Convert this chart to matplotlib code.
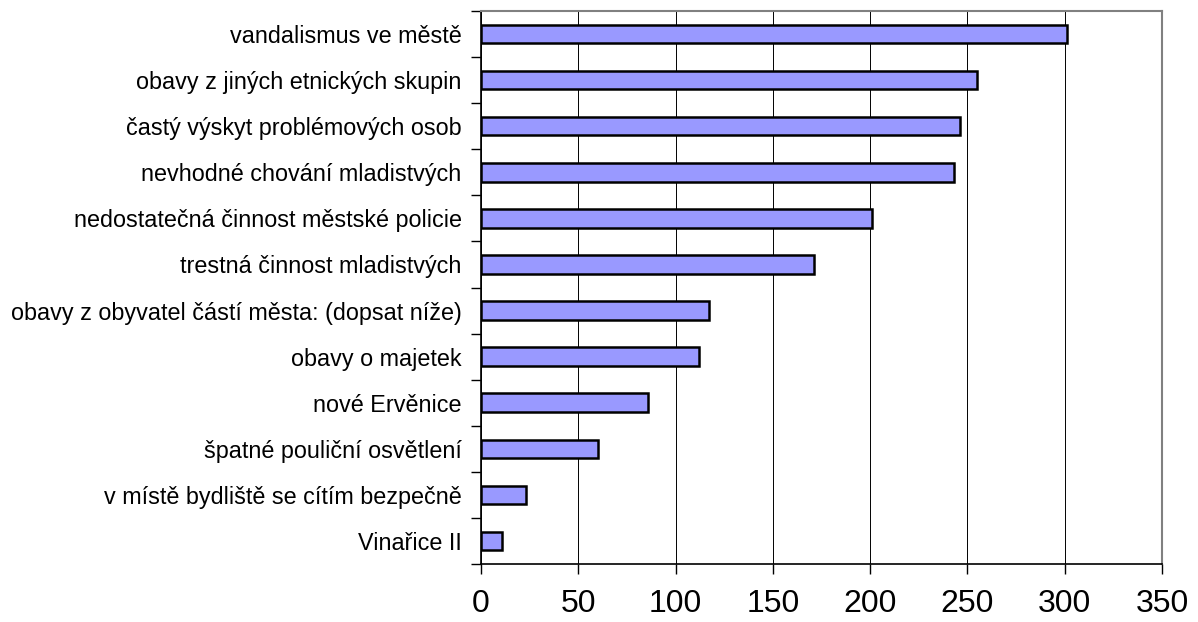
import numpy as np
import matplotlib.pyplot as plt

plt.rcParams['font.family'] = ['Liberation Sans', 'DejaVu Sans']

categories = [
    'vandalismus ve městě',
    'obavy z jiných etnických skupin',
    'častý výskyt problémových osob',
    'nevhodné chování mladistvých',
    'nedostatečná činnost městské policie',
    'trestná činnost mladistvých',
    'obavy z obyvatel částí města: (dopsat níže)',
    'obavy o majetek',
    'nové Ervěnice',
    'špatné pouliční osvětlení',
    'v místě bydliště se cítím bezpečně',
    'Vinařice II',
]
values = [301, 255, 246, 243, 201, 171, 117, 112, 86, 60, 23, 11]
xticks = [0, 50, 100, 150, 200, 250, 300, 350]

fig = plt.figure(figsize=(11.98, 6.22), dpi=100)
ax = fig.add_axes([481 / 1198, 1 - 564 / 622, 681 / 1198, 553 / 622])

n = len(categories)
pos = np.arange(n)[::-1]
ax.barh(pos, values, height=0.4, color='#9999FF', edgecolor='black',
        linewidth=1.8, zorder=3)

ax.set_xlim(0, 350)
ax.set_ylim(-0.5, n - 0.5)
ax.set_xticks(xticks)
ax.set_xticklabels([str(t) for t in xticks], fontsize=23)
ax.tick_params(axis='x', direction='out', length=7, width=1, pad=11)

ax.set_yticks(pos)
ax.set_yticklabels(categories, fontsize=16.8)
ax.tick_params(axis='y', which='major', length=0, pad=14)
ax.set_yticks(np.arange(n + 1) - 0.5, minor=True)
ax.tick_params(axis='y', which='minor', direction='out', length=7, width=1)

ax.xaxis.grid(True, color='black', linewidth=0.7, zorder=0)
ax.set_axisbelow(True)

for side in ['top', 'right']:
    ax.spines[side].set_color('#808080')
    ax.spines[side].set_linewidth(1.5)
for side in ['left', 'bottom']:
    ax.spines[side].set_color('black')
    ax.spines[side].set_linewidth(1.2)

fig.savefig('out.png', dpi=100)
